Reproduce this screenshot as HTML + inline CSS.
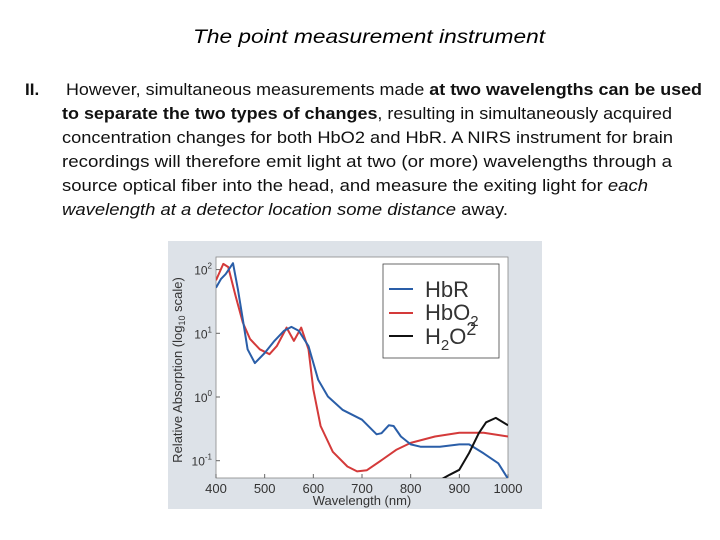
<!DOCTYPE html>
<html><head><meta charset="utf-8"><style>
html,body{margin:0;padding:0;background:#fff;}
body{width:720px;height:540px;overflow:hidden;}
svg{display:block;font-family:"Liberation Sans",sans-serif;}
</style></head><body>
<svg id="pg" width="720" height="540" viewBox="0 0 720 540">
<text x="369" y="43" text-anchor="middle" font-size="19" font-style="italic" textLength="352" lengthAdjust="spacingAndGlyphs">The point measurement instrument</text>
<g font-size="17" fill="#111">
<text x="25" y="95" font-weight="bold">II.</text>
<text x="66" y="95" textLength="636" lengthAdjust="spacingAndGlyphs">However, simultaneous measurements made <tspan font-weight="bold">at two wavelengths can be used</tspan></text>
<text x="62" y="119" textLength="610" lengthAdjust="spacingAndGlyphs"><tspan font-weight="bold">to separate the two types of changes</tspan>, resulting in simultaneously acquired</text>
<text x="62" y="143" textLength="611" lengthAdjust="spacingAndGlyphs">concentration changes for both HbO2 and HbR. A NIRS instrument for brain</text>
<text x="62" y="167" textLength="610" lengthAdjust="spacingAndGlyphs">recordings will therefore emit light at two (or more) wavelengths through a</text>
<text x="62" y="191" textLength="586" lengthAdjust="spacingAndGlyphs">source optical fiber into the head, and measure the exiting light for <tspan font-style="italic">each</tspan></text>
<text x="62" y="215" textLength="446" lengthAdjust="spacingAndGlyphs"><tspan font-style="italic">wavelength at a detector location some distance</tspan> away.</text>
</g>
<rect x="168" y="241" width="374" height="268" fill="#dde2e8"/>
<rect x="216" y="257" width="292" height="221" fill="#fff" stroke="#888" stroke-width="0.8"/>
<g id="ticks"></g>
<clipPath id="cp"><rect x="216" y="257" width="292" height="221"/></clipPath>
<g id="series" clip-path="url(#cp)"></g>
<text x="182" y="370" font-size="13" fill="#333" text-anchor="middle" transform="rotate(-90 182 370)">Relative Absorption (log<tspan font-size="9" dy="3">10</tspan><tspan dy="-3"> scale)</tspan></text>
<text x="362" y="505" font-size="13" fill="#333" text-anchor="middle">Wavelength (nm)</text>
<g>
<rect x="383" y="264" width="116" height="94" fill="#fff" stroke="#444" stroke-width="0.8"/>
<line x1="389" y1="289" x2="413" y2="289" stroke="#2a5ea8" stroke-width="2"/>
<text x="425" y="297" font-size="22" fill="#333">HbR</text>
<line x1="389" y1="313" x2="413" y2="313" stroke="#d43a3a" stroke-width="2"/>
<text x="425" y="320" font-size="22" fill="#333">HbO<tspan font-size="15" dy="6">2</tspan></text>
<line x1="389" y1="336" x2="413" y2="336" stroke="#111" stroke-width="2"/>
<text x="425" y="344" font-size="22" fill="#333">H<tspan font-size="15" dy="6">2</tspan><tspan dy="-6">O</tspan><tspan font-size="18" dy="-9">2</tspan></text>
</g>
</svg>
<script>
const xTicks=[400,500,600,700,800,900,1000];
const yTickExps=[2,1,0,-1];
const hbrWl=[400,410,420,435,445,455,465,480,500,520,540,555,570,590,610,630,660,700,730,740,755,765,780,800,820,860,900,920,950,980,1000];
const hbrVal=[52,71,85,126,49,16.6,5.6,3.4,4.9,7.6,11,12.6,11,6.3,1.86,1.02,0.63,0.44,0.26,0.27,0.36,0.35,0.24,0.18,0.166,0.166,0.18,0.18,0.13,0.091,0.052];
const hbo2Wl=[400,415,425,440,455,470,490,510,525,545,560,575,590,600,615,640,670,690,710,740,770,800,850,900,950,1000];
const hbo2Val=[68,123,110,39,14.8,8.1,5.6,4.7,6.3,12.3,7.6,12.3,5.6,1.32,0.35,0.138,0.081,0.068,0.071,0.102,0.148,0.19,0.24,0.275,0.275,0.24];
const h2oWl=[850,880,900,920,940,955,975,1000];
const h2oVal=[0.045,0.06,0.072,0.132,0.27,0.4,0.47,0.36];
const NS="http://www.w3.org/2000/svg";
const xs=w=>216+(w-400)*292/600;
const ys=v=>397-63.7*Math.log10(v);
const tg=document.getElementById('ticks');
xTicks.forEach(t=>{
 const tx=document.createElementNS(NS,'text');
 
 
 tx.setAttribute('x',xs(t));tx.setAttribute('y',493);tx.setAttribute('font-size','13');
 tx.setAttribute('text-anchor','middle');tx.setAttribute('fill','#333');tx.textContent=t;tg.appendChild(tx);
 const l=document.createElementNS(NS,'line');
 
 
 l.setAttribute('x1',xs(t));l.setAttribute('x2',xs(t));l.setAttribute('y1',478);l.setAttribute('y2',474);l.setAttribute('stroke','#666');tg.appendChild(l);
});
yTickExps.forEach(e=>{
 const y=ys(Math.pow(10,e));
 const tx=document.createElementNS(NS,'text');
 
 
 tx.setAttribute('x',212);tx.setAttribute('y',y+5);tx.setAttribute('font-size','12');
 tx.setAttribute('text-anchor','end');tx.setAttribute('fill','#333');
 tx.innerHTML='10<tspan font-size="8" dy="-6">'+e+'</tspan>';tg.appendChild(tx);
 const l=document.createElementNS(NS,'line');
 
 
 l.setAttribute('x1',216);l.setAttribute('x2',220);l.setAttribute('y1',y);l.setAttribute('y2',y);l.setAttribute('stroke','#666');tg.appendChild(l);
});
const sg=document.getElementById('series');
function draw(wl,vals,color,name){
 const p=document.createElementNS(NS,'polyline');
 
 
 p.setAttribute('points',wl.map((w,i)=>xs(w).toFixed(1)+','+ys(vals[i]).toFixed(1)).join(' '));
 p.setAttribute('fill','none');p.setAttribute('stroke',color);p.setAttribute('stroke-width','2');
 p.setAttribute('stroke-linejoin','round');sg.appendChild(p);
}
draw(hbo2Wl,hbo2Val,'#d43a3a','hbo2-line');
draw(hbrWl,hbrVal,'#2a5ea8','hbr-line');
draw(h2oWl,h2oVal,'#111','h2o-line');
</script>
</body></html>
